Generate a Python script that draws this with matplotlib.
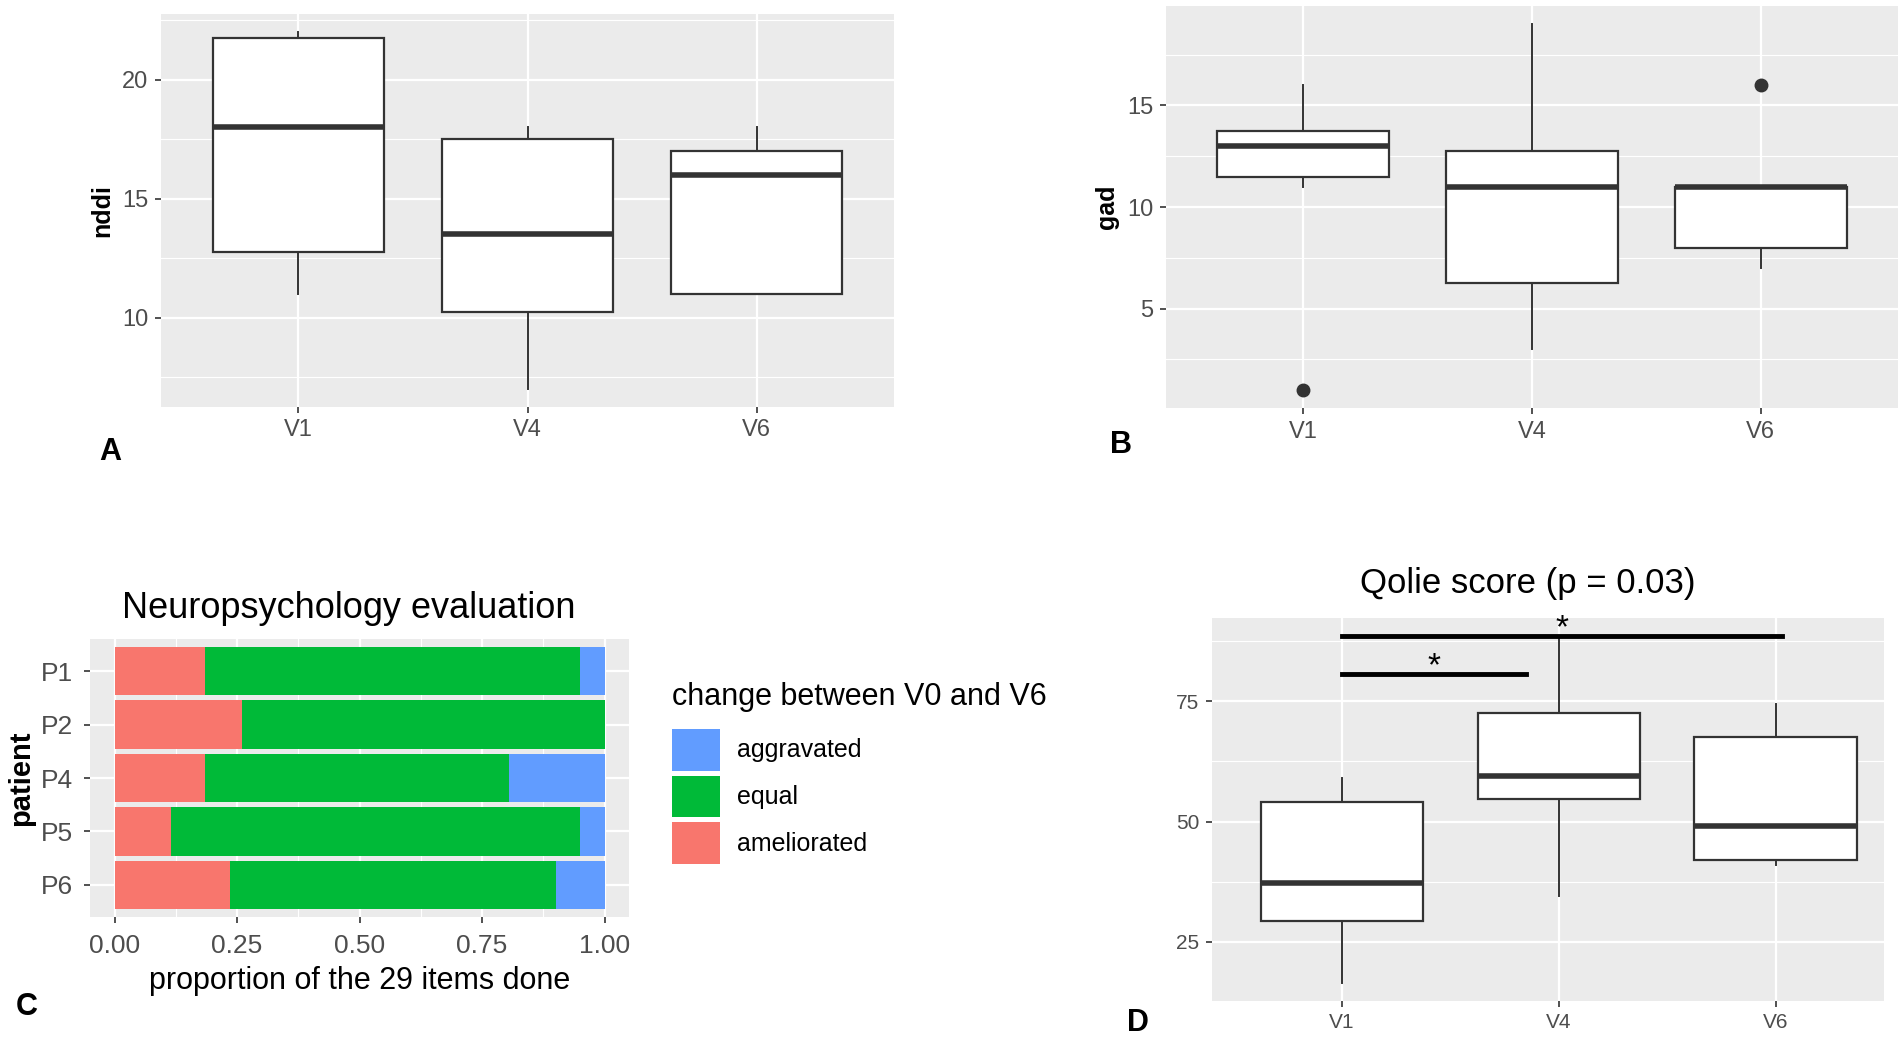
import matplotlib
matplotlib.use("Agg")
import matplotlib.pyplot as plt
from matplotlib.patches import Patch
from matplotlib.ticker import MultipleLocator

plt.rcParams["font.family"] = ["Liberation Sans", "DejaVu Sans"]

# ---------------------------------------------------------------------------
# Data
# ---------------------------------------------------------------------------

VISITS = ["V1", "V4", "V6"]

# panel A - nddi
NDDI_LOW = [11.0, 7.0, 11.0]
NDDI_Q1 = [12.75, 10.25, 11.0]
NDDI_MED = [18.0, 13.5, 16.0]
NDDI_Q3 = [21.75, 17.5, 17.0]
NDDI_HIGH = [22.0, 18.0, 18.0]
NDDI_OUT = [[], [], []]

# panel B - gad
GAD_LOW = [11.0, 3.0, 7.0]
GAD_Q1 = [11.5, 6.25, 8.0]
GAD_MED = [13.0, 11.0, 11.0]
GAD_Q3 = [13.75, 12.75, 11.0]
GAD_HIGH = [16.0, 19.0, 11.0]
GAD_OUT = [[1.0], [], [16.0]]

# panel C - neuropsychology
PATIENTS = ["P1", "P2", "P4", "P5", "P6"]
AMELIORATED = [0.185, 0.26, 0.185, 0.115, 0.235]
EQUAL = [0.765, 0.74, 0.62, 0.835, 0.665]
AGGRAVATED = [0.05, 0.0, 0.195, 0.05, 0.10]

# panel D - qolie
QOL_LOW = [16.5, 34.5, 41.0]
QOL_Q1 = [29.3, 54.6, 42.0]
QOL_MED = [37.2, 59.5, 49.1]
QOL_Q3 = [54.0, 72.6, 67.5]
QOL_HIGH = [59.0, 88.6, 74.5]
QOL_OUT = [[], [], []]
# significance bars: (x start, x end, y)
SIG_BARS = [(1.0, 1.85, 80.7), (1.0, 3.03, 88.6)]

# ---------------------------------------------------------------------------
# Style helpers
# ---------------------------------------------------------------------------

W, H = 1901, 1039
BG = "#EBEBEB"
GREY20 = "#333333"
TICK_C = "#4D4D4D"
COLORS = {"aggravated": "#619CFF", "equal": "#00BA38", "ameliorated": "#F8766D"}

fig = plt.figure(figsize=(W / 100, H / 100), dpi=100)


def add_ax(left, top, right, bottom):
    return fig.add_axes([left / W, 1 - bottom / H, (right - left) / W, (bottom - top) / H])


def gg_style(ax, tick_size=17, pad=5):
    ax.set_facecolor(BG)
    for s in ax.spines.values():
        s.set_visible(False)
    ax.grid(True, which="major", color="white", lw=1.6, zorder=0)
    ax.grid(True, which="minor", color="white", lw=0.8, zorder=0)
    ax.set_axisbelow(True)
    ax.tick_params(which="major", length=4, width=1.2, color=GREY20,
                   labelsize=tick_size, labelcolor=TICK_C, pad=pad)
    ax.tick_params(which="minor", length=0)


def boxes(ax, low, q1, med, q3, high, out):
    stats = []
    for i in range(len(VISITS)):
        stats.append({"whislo": low[i], "q1": q1[i], "med": med[i], "q3": q3[i],
                      "whishi": high[i], "fliers": out[i], "label": VISITS[i]})
    ax.bxp(stats, positions=[1, 2, 3], widths=0.75, patch_artist=True, showcaps=False,
           boxprops=dict(facecolor="white", edgecolor=GREY20, lw=1.6),
           whiskerprops=dict(color=GREY20, lw=1.4),
           medianprops=dict(color=GREY20, lw=4),
           flierprops=dict(marker="o", markersize=9, markerfacecolor=GREY20,
                           markeredgecolor=GREY20), zorder=3)
    ax.set_xlim(0.4, 3.6)
    ax.xaxis.grid(True, which="major", color="white", lw=1.6)


def panel_letter(x, y, s):
    fig.text(x / W, 1 - y / H, s, fontsize=22, fontweight="bold", ha="center", va="center")

# ---------------------------------------------------------------------------
# A
# ---------------------------------------------------------------------------
axA = add_ax(161, 14, 894, 407)
gg_style(axA)
boxes(axA, NDDI_LOW, NDDI_Q1, NDDI_MED, NDDI_Q3, NDDI_HIGH, NDDI_OUT)
axA.set_ylim(6.25, 22.75)
axA.yaxis.set_major_locator(MultipleLocator(5))
axA.yaxis.set_minor_locator(MultipleLocator(2.5))
axA.set_ylabel("nddi", fontsize=18, fontweight="bold", labelpad=6)
panel_letter(110, 452, "A")

# ---------------------------------------------------------------------------
# B
# ---------------------------------------------------------------------------
axB = add_ax(1166, 6, 1898, 408)
gg_style(axB)
boxes(axB, GAD_LOW, GAD_Q1, GAD_MED, GAD_Q3, GAD_HIGH, GAD_OUT)
axB.set_ylim(0.1, 19.9)
axB.yaxis.set_major_locator(MultipleLocator(5))
axB.yaxis.set_minor_locator(MultipleLocator(2.5))
axB.set_yticks([5, 10, 15])
axB.set_ylabel("gad", fontsize=18, fontweight="bold", labelpad=6)
panel_letter(1121, 445, "B")

# ---------------------------------------------------------------------------
# C
# ---------------------------------------------------------------------------
axC = add_ax(90, 639, 629, 917)
gg_style(axC, tick_size=19, pad=8)
ypos = list(range(len(PATIENTS)))[::-1]
left2 = [a + e for a, e in zip(AMELIORATED, EQUAL)]
axC.barh(ypos, AMELIORATED, height=0.9, color=COLORS["ameliorated"], zorder=3)
axC.barh(ypos, EQUAL, left=AMELIORATED, height=0.9, color=COLORS["equal"], zorder=3)
axC.barh(ypos, AGGRAVATED, left=left2, height=0.9, color=COLORS["aggravated"], zorder=3)
axC.set_yticks(ypos)
axC.set_yticklabels(PATIENTS)
axC.set_ylim(-0.6, len(PATIENTS) - 0.4)
axC.set_xlim(-0.05, 1.05)
axC.set_xticks([0, 0.25, 0.5, 0.75, 1.0])
axC.set_xticklabels(["0.00", "0.25", "0.50", "0.75", "1.00"])
axC.xaxis.set_minor_locator(MultipleLocator(0.125))
axC.set_xlabel("proportion of the 29 items done", fontsize=22, labelpad=6)
axC.set_ylabel("patient", fontsize=21, fontweight="bold", labelpad=4)
fig.text(349 / W, 1 - 608 / H, "Neuropsychology evaluation", fontsize=26,
         ha="center", va="center")
handles = [Patch(facecolor=COLORS[k], edgecolor="none", label=k)
           for k in ["aggravated", "equal", "ameliorated"]]
leg = fig.legend(handles=handles, title="change between V0 and V6",
                 loc="upper left", bbox_to_anchor=(672 / W, 1 - 682 / H),
                 frameon=False, fontsize=18, title_fontsize=22,
                 handlelength=1.9, handleheight=2.2, labelspacing=0.2,
                 handletextpad=0.7, borderaxespad=0, borderpad=0)
leg._legend_box.align = "left"
leg._legend_box.sep = 12
panel_letter(27, 1007, "C")

# ---------------------------------------------------------------------------
# D
# ---------------------------------------------------------------------------
axD = add_ax(1212, 618, 1884, 1001)
gg_style(axD, tick_size=15)
boxes(axD, QOL_LOW, QOL_Q1, QOL_MED, QOL_Q3, QOL_HIGH, QOL_OUT)
axD.set_xlim(0.4, 3.5)
axD.set_ylim(12.7, 92.3)
axD.set_yticks([25, 50, 75])
axD.yaxis.set_minor_locator(MultipleLocator(12.5))
fig.text(1528 / W, 1 - 583 / H, "Qolie score (p = 0.03)", fontsize=25,
         ha="center", va="center")
for x0, x1, y in SIG_BARS:
    axD.plot([x0, x1], [y, y], color="black", lw=3.5, zorder=5, clip_on=False)
    axD.text((x0 + x1) / 2, y - 0.3, "*", fontsize=24, ha="center",
             va="baseline", zorder=5)
panel_letter(1138, 1023, "D")

fig.savefig("out.png", dpi=100)
